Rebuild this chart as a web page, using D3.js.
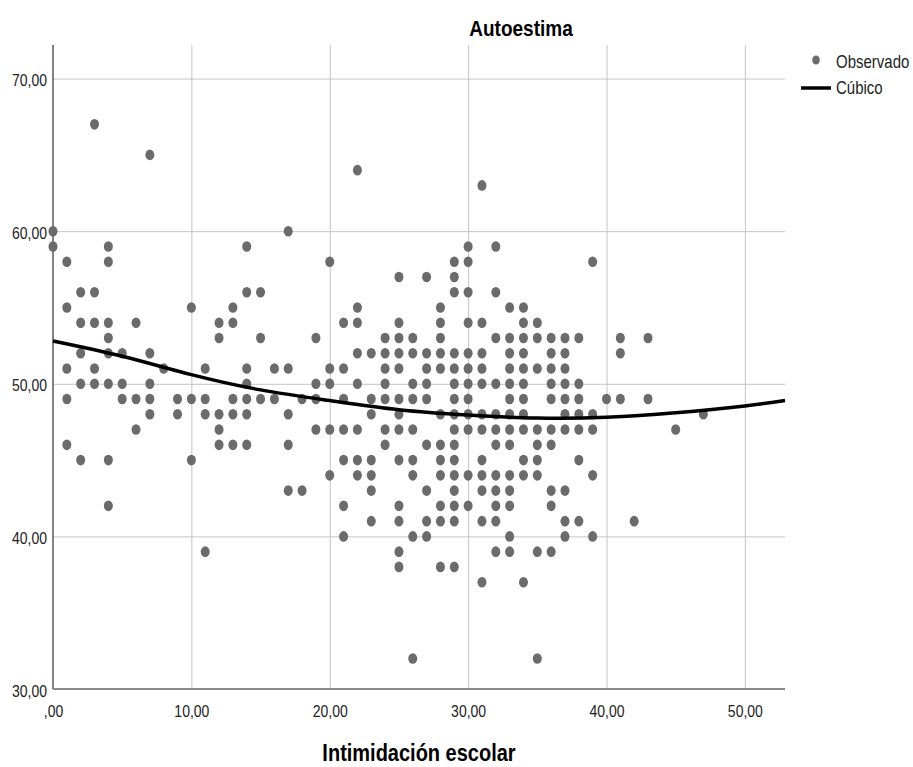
<!DOCTYPE html>
<html>
<head>
<meta charset="utf-8">
<script src="https://cdn.jsdelivr.net/npm/d3@7"></script>
<style>
  body { margin: 0; background: #ffffff; }
  svg { display: block; }
</style>
</head>
<body>
<svg id="chart" width="913" height="767"></svg>
<script>
// Axis ticks and texts
const xTicks = [0, 10, 20, 30, 40, 50];
const yTicks = [30, 40, 50, 60, 70];
const chartTitle = "Autoestima";
const xTitle = "Intimidación escolar";
const legendLabels = ["Observado", "Cúbico"];

// Observed cases: Intimidación escolar score, followed by the Autoestima scores seen at it
const observedByX = [
  [0, [60, 59]],
  [1, [58, 55, 51, 49, 46]],
  [2, [56, 54, 52, 50, 45]],
  [3, [67, 56, 54, 51, 50]],
  [4, [59, 58, 54, 53, 52, 50, 45, 42]],
  [5, [52, 50, 49]],
  [6, [54, 49, 47]],
  [7, [65, 52, 50, 49, 48]],
  [8, [51]],
  [9, [49, 48]],
  [10, [55, 49, 45]],
  [11, [51, 49, 48, 39]],
  [12, [54, 53, 48, 47, 46]],
  [13, [55, 54, 49, 48, 46]],
  [14, [59, 56, 51, 50, 49, 48, 46]],
  [15, [56, 53, 49]],
  [16, [51, 49]],
  [17, [60, 51, 48, 46, 43]],
  [18, [49, 43]],
  [19, [53, 50, 49, 47]],
  [20, [58, 51, 50, 47, 44]],
  [21, [54, 51, 49, 47, 45, 42, 40]],
  [22, [64, 55, 54, 52, 50, 47, 45, 44]],
  [23, [52, 49, 48, 45, 44, 43, 41]],
  [24, [53, 52, 51, 50, 49, 47, 46]],
  [25, [57, 54, 53, 52, 51, 49, 48, 47, 45, 42, 41, 39, 38]],
  [26, [53, 52, 50, 49, 47, 45, 44, 40, 32]],
  [27, [57, 52, 51, 50, 49, 46, 43, 41, 40]],
  [28, [55, 54, 53, 52, 51, 48, 46, 45, 44, 42, 41, 38]],
  [29, [58, 57, 56, 52, 51, 50, 49, 48, 47, 46, 45, 44, 43, 42, 41, 38]],
  [30, [59, 58, 56, 54, 52, 51, 50, 49, 48, 47, 44, 42]],
  [31, [63, 54, 52, 51, 50, 48, 47, 45, 44, 43, 41, 37]],
  [32, [59, 56, 53, 50, 48, 47, 46, 44, 43, 42, 41, 39]],
  [33, [55, 53, 52, 51, 50, 49, 48, 47, 46, 44, 43, 42, 40, 39]],
  [34, [55, 54, 53, 52, 51, 50, 49, 48, 47, 45, 44, 37]],
  [35, [54, 53, 51, 47, 46, 45, 44, 39, 32]],
  [36, [53, 52, 51, 50, 49, 47, 46, 43, 42, 39]],
  [37, [53, 52, 51, 50, 49, 48, 47, 43, 41, 40]],
  [38, [53, 50, 49, 48, 47, 45, 41]],
  [39, [58, 48, 47, 44, 40]],
  [40, [49]],
  [41, [53, 52, 49]],
  [42, [41]],
  [43, [53, 49]],
  [45, [47]],
  [47, [48]]
];

// Cubic fit line, sampled along the Intimidación escolar range
const fitX = [0, 5, 10, 15, 20, 25, 30, 35, 40, 45, 50, 52.9];
const fitY = [52.8, 51.8, 50.6, 49.6, 48.9, 48.3, 47.95, 47.75, 47.8, 48.1, 48.55, 48.9];

const points = observedByX.flatMap(([x, ys]) => ys.map(y => ({ x, y })));
const fitLine = fitX.map((v, i) => ({ x: v, y: fitY[i] }));

const svg = d3.select("#chart");
const plotLeft = 53, plotRight = 785, plotTop = 45, plotBottom = 689;
const xMax = 52.9, yMin = 30, yMax = 72.2;
const SY = 1.18; // vertical stretch of the lettering

const x = d3.scaleLinear().domain([0, xMax]).range([plotLeft, plotRight]);
const y = d3.scaleLinear().domain([yMin, yMax]).range([plotBottom, plotTop]);
const fmt = d => d === 0 ? ",00" : d.toFixed(2).replace(".", ",");

const FONT = "'Liberation Sans', Arial, sans-serif";

// Gridlines
svg.append("g")
  .attr("transform", `translate(0,${plotBottom})`)
  .call(d3.axisBottom(x).tickValues(xTicks.filter(t => t > 0)).tickSize(-(plotBottom - plotTop)).tickFormat(""))
  .call(g => g.select(".domain").remove())
  .call(g => g.selectAll("line").attr("stroke", "#c4c4c4").attr("stroke-width", 1));

svg.append("g")
  .attr("transform", `translate(${plotLeft},0)`)
  .call(d3.axisLeft(y).tickValues(yTicks.filter(t => t > yMin)).tickSize(-(plotRight - plotLeft)).tickFormat(""))
  .call(g => g.select(".domain").remove())
  .call(g => g.selectAll("line").attr("stroke", "#c4c4c4").attr("stroke-width", 1));

// Axis lines
svg.append("line").attr("x1", plotLeft).attr("x2", plotLeft).attr("y1", plotTop).attr("y2", plotBottom)
  .attr("stroke", "#5a5a5a").attr("stroke-width", 1.5);
svg.append("line").attr("x1", plotLeft).attr("x2", plotRight).attr("y1", plotBottom).attr("y2", plotBottom)
  .attr("stroke", "#8a8a8a").attr("stroke-width", 2);

// Lettering helper: text drawn slightly taller than its width
function stretchedText(g, tx, ty, txt, size, anchor, weight) {
  return g.append("text")
    .attr("transform", `translate(${tx},${ty}) scale(1,${SY})`)
    .attr("text-anchor", anchor)
    .attr("font-family", FONT)
    .attr("font-size", size)
    .attr("font-weight", weight || "normal")
    .attr("fill", "#222222")
    .text(txt);
}

const yAxis = d3.axisLeft(y).tickValues(yTicks).tickSize(0).tickFormat(fmt);
svg.append("g").attr("transform", `translate(${plotLeft},0)`).call(yAxis)
  .call(g => g.select(".domain").remove())
  .call(g => g.selectAll(".tick text").remove())
  .call(g => g.selectAll(".tick").each(function (d) {
    stretchedText(d3.select(this), -6, 7, fmt(d), 14, "end");
  }));

const xAxis = d3.axisBottom(x).tickValues(xTicks).tickSize(0).tickFormat(fmt);
svg.append("g").attr("transform", `translate(0,${plotBottom})`).call(xAxis)
  .call(g => g.select(".domain").remove())
  .call(g => g.selectAll(".tick text").remove())
  .call(g => g.selectAll(".tick").each(function (d) {
    stretchedText(d3.select(this), 0, 28, fmt(d), 14, "middle");
  }));

// Observed points
svg.append("g").selectAll("ellipse").data(points).join("ellipse")
  .attr("cx", d => x(d.x))
  .attr("cy", d => y(d.y))
  .attr("rx", 4.5)
  .attr("ry", 5.3)
  .attr("fill", "#6b6b6b");

// Cubic fit line
svg.append("path")
  .datum(fitLine)
  .attr("fill", "none")
  .attr("stroke", "#000000")
  .attr("stroke-width", 3.5)
  .attr("d", d3.line().x(d => x(d.x)).y(d => y(d.y)).curve(d3.curveNatural));

// Titles
stretchedText(svg, 521, 36, chartTitle, 19, "middle", "bold").attr("fill", "#000");
stretchedText(svg, 419, 761, xTitle, 20, "middle", "bold").attr("fill", "#000");

// Legend
svg.append("ellipse").attr("cx", 816).attr("cy", 60).attr("rx", 3.8).attr("ry", 4.5).attr("fill", "#6b6b6b");
stretchedText(svg, 836, 68, legendLabels[0], 15, "start").attr("fill", "#222");
svg.append("line").attr("x1", 801).attr("x2", 831).attr("y1", 88).attr("y2", 88)
  .attr("stroke", "#000").attr("stroke-width", 3.5);
stretchedText(svg, 836, 94, legendLabels[1], 15, "start").attr("fill", "#222");
</script>
</body>
</html>
